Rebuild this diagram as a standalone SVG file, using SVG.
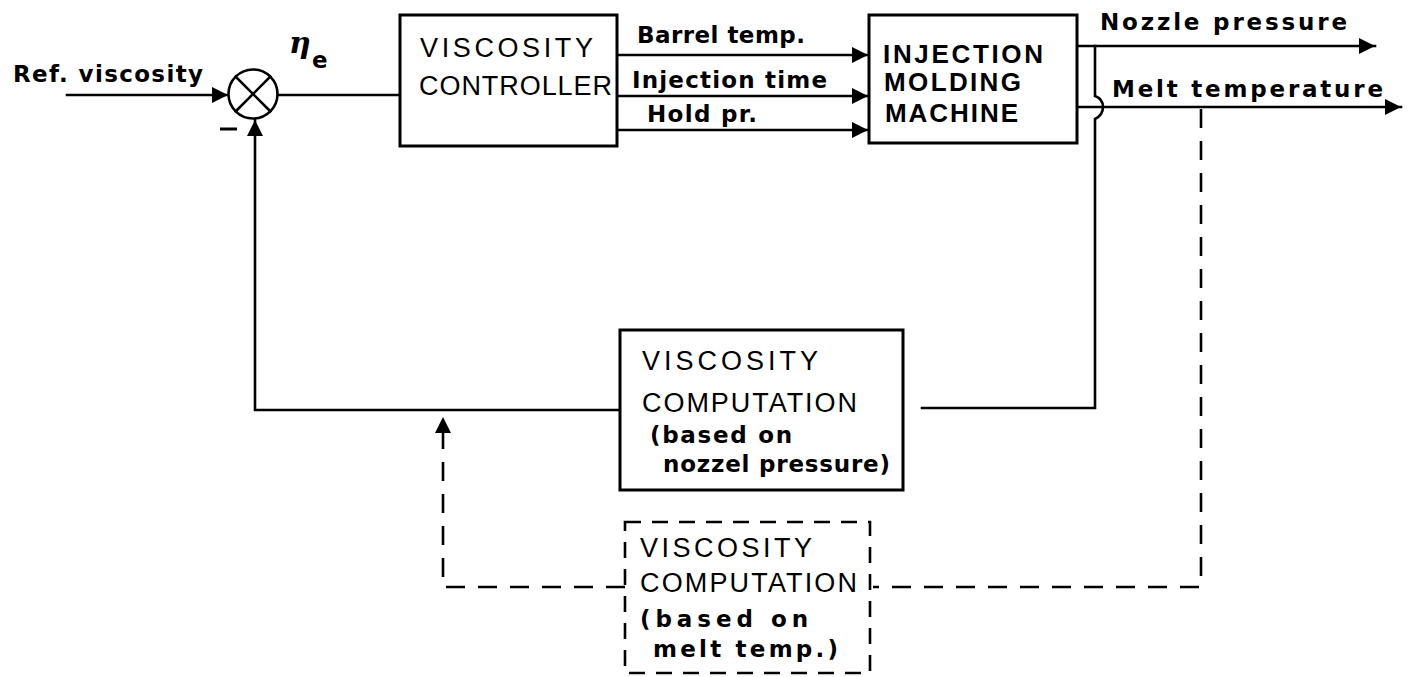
<svg xmlns="http://www.w3.org/2000/svg" width="1411" height="677" viewBox="0 0 1411 677">
<style>
.ln{fill:none;stroke:#000;stroke-width:2.6;stroke-linecap:square}
.dl{fill:none;stroke:#000;stroke-width:2.6;stroke-dasharray:19 13}
.bx{fill:#fff;stroke:#000;stroke-width:3}
.dbx{fill:#fff;stroke:#000;stroke-width:2.6;stroke-dasharray:16 11}
.t{font-family:"Liberation Sans",Arial,sans-serif;fill:#000}
.cap{font-size:27px}
.capb{font-size:26px;font-weight:bold}
.lab{font-family:"DejaVu Sans","Liberation Sans",sans-serif;font-size:23px;font-weight:bold;fill:#000}
</style>
<defs>
<marker id="ah" viewBox="0 0 16 16" refX="16" refY="8" markerWidth="16" markerHeight="16" markerUnits="userSpaceOnUse" orient="auto">
<path d="M0,0 L16,8 L0,16 Z" fill="#000"/>
</marker>
</defs>

<g id="connectors">
<line class="ln" x1="67" y1="95" x2="228" y2="95" marker-end="url(#ah)"/>
<line class="ln" x1="278" y1="95" x2="400" y2="95"/>
<polyline class="ln" points="620,410 255,410 255,120" marker-end="url(#ah)"/>
<line class="ln" x1="617" y1="55" x2="868" y2="55" marker-end="url(#ah)"/>
<line class="ln" x1="617" y1="96" x2="868" y2="96" marker-end="url(#ah)"/>
<line class="ln" x1="617" y1="130" x2="868" y2="130" marker-end="url(#ah)"/>
<line class="ln" x1="1077" y1="46" x2="1375" y2="46" marker-end="url(#ah)"/>
<line class="ln" x1="1077" y1="107" x2="1401" y2="107" marker-end="url(#ah)"/>
<path class="ln" d="M1095,46 L1095,96 Q1103,99 1103,107 Q1103,115 1095,119 L1095,408 L922,408"/>
<polyline class="dl" points="1201,109 1201,587 873,587"/>
<polyline class="dl" points="625,587 443,587 443,432"/>
<path d="M443,417 L451,433 L435,433 Z" fill="#000"/>
</g>

<g id="sum">
<circle cx="253" cy="94" r="24.5" fill="#fff" stroke="#000" stroke-width="2.6"/>
<line class="ln" x1="235.7" y1="76.7" x2="270.3" y2="111.3"/>
<line class="ln" x1="270.3" y1="76.7" x2="235.7" y2="111.3"/>
<line x1="220" y1="129" x2="237" y2="129" stroke="#000" stroke-width="3"/>
</g>

<g id="labels">
<text class="lab" x="13" y="82" font-size="24" textLength="190">Ref. viscosity</text>
<text x="289" y="53" font-family="'DejaVu Serif','Liberation Serif',serif" font-style="italic" font-weight="bold" font-size="30" fill="#000">η</text>
<text class="lab" x="312" y="68" font-size="19">e</text>
<text class="lab" x="637" y="43" textLength="168">Barrel temp.</text>
<text class="lab" x="632" y="88" textLength="195">Injection time</text>
<text class="lab" x="647" y="122" textLength="110">Hold pr.</text>
<text class="lab" x="1100" y="30" textLength="247">Nozzle pressure</text>
<text class="lab" x="1112" y="97" textLength="271">Melt temperature</text>
</g>

<g id="controller">
<rect class="bx" x="400" y="15" width="217" height="131"/>
<text class="t cap" x="420" y="57" textLength="173">VISCOSITY</text>
<text class="t cap" x="419" y="95" textLength="193">CONTROLLER</text>
</g>

<g id="machine">
<rect class="bx" x="869" y="15" width="208" height="128"/>
<text class="t capb" x="883" y="63" textLength="160">INJECTION</text>
<text class="t capb" x="884" y="91" textLength="137">MOLDING</text>
<text class="t capb" x="885" y="122" textLength="133">MACHINE</text>
</g>

<g id="computation-nozzle">
<rect class="bx" x="620" y="330" width="283" height="160"/>
<text class="t cap" x="642" y="370" textLength="176">VISCOSITY</text>
<text class="t cap" x="642" y="412" textLength="215">COMPUTATION</text>
<text class="lab" x="650" y="443" textLength="142">(based on</text>
<text class="lab" x="663" y="472" textLength="227">nozzel pressure)</text>
</g>

<g id="computation-melt">
<rect class="dbx" x="625" y="522" width="245" height="151"/>
<text class="t cap" x="640" y="557" textLength="172">VISCOSITY</text>
<text class="t cap" x="640" y="592" textLength="217">COMPUTATION</text>
<text class="lab" x="640" y="627" textLength="168">(based on</text>
<text class="lab" x="653" y="657" textLength="185">melt temp.)</text>
</g>
</svg>
